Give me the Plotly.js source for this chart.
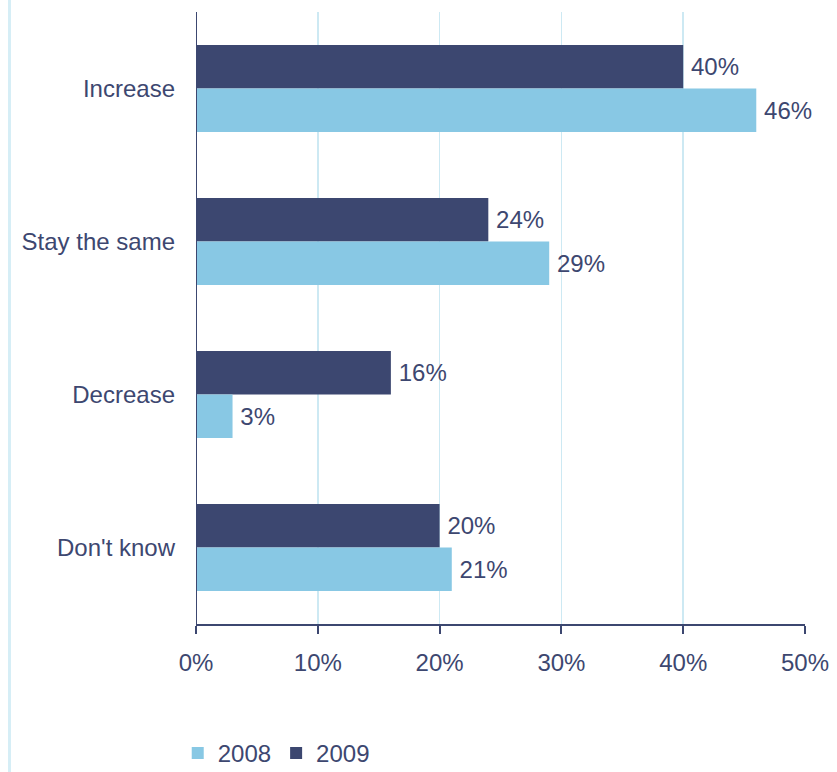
<!DOCTYPE html>
<html>
<head>
<meta charset="utf-8">
<script src="https://cdn.plot.ly/plotly-3.0.1.min.js"></script>
<style>
  html, body { margin: 0; padding: 0; background: #ffffff; }
  #chart { width: 837px; height: 772px; }
  #edge { position: absolute; left: 8px; top: 0; width: 3px; height: 772px; background: #D6EEF6; }
</style>
</head>
<body>
<div id="edge"></div>
<div id="chart"></div>
<script>
const categories = ["Increase", "Stay the same", "Decrease", "Don't know"];
const values2008 = [46, 29, 3, 21];
const values2009 = [40, 24, 16, 20];
const seriesNames = ["2008", "2009"];
const xTickValues = [0, 10, 20, 30, 40, 50];
const xTickLabels = ["0%", "10%", "20%", "30%", "40%", "50%"];

const navy = "#3C4770";
const light = "#88C8E4";
const textColor = "#3D4770";
const font = { family: "Liberation Sans, Arial, sans-serif", size: 24, color: textColor };

const pct = arr => arr.map(v => "\u2009" + v + "%");

const data = [
  {
    type: "bar", orientation: "h", name: seriesNames[1],
    y: categories, x: values2009,
    marker: { color: navy },
    text: pct(values2009), textposition: "outside", cliponaxis: false,
    textfont: font, hoverinfo: "skip"
  },
  {
    type: "bar", orientation: "h", name: seriesNames[0],
    y: categories, x: values2008,
    marker: { color: light },
    text: pct(values2008), textposition: "outside", cliponaxis: false,
    textfont: font, hoverinfo: "skip"
  }
];

const layout = {
  width: 837, height: 772,
  margin: { l: 196, r: 32, t: 12, b: 148 },
  paper_bgcolor: "rgba(0,0,0,0)", plot_bgcolor: "rgba(0,0,0,0)",
  font: font,
  barmode: "group", bargap: 0.43, bargroupgap: 0,
  showlegend: true,
  legend: {
    orientation: "h", traceorder: "reversed",
    x: -0.03, xanchor: "left", y: 0.024, yref: "container", yanchor: "middle",
    font: font, bgcolor: "rgba(0,0,0,0)"
  },
  xaxis: {
    range: [0, 50], tickmode: "array", tickvals: xTickValues, ticktext: xTickLabels,
    showgrid: true, gridcolor: "#CDE9F3", gridwidth: 1.5,
    zeroline: false, showline: true, linecolor: navy, linewidth: 2,
    ticks: "outside", ticklen: 8, tickwidth: 2, tickcolor: navy,
    ticklabelstandoff: 8,
    tickfont: font, fixedrange: true
  },
  yaxis: {
    type: "category", categoryorder: "array", categoryarray: categories,
    autorange: "reversed",
    showgrid: false, zeroline: false, showline: false,
    ticks: "", ticklabelstandoff: 20,
    tickfont: font, fixedrange: true
  },
  shapes: [
    { type: "line", xref: "x", yref: "paper", x0: 0, x1: 0, y0: 0, y1: 1,
      line: { color: navy, width: 2 } }
  ]
};

Plotly.newPlot("chart", data, layout, { displayModeBar: false, staticPlot: true });
</script>
</body>
</html>
